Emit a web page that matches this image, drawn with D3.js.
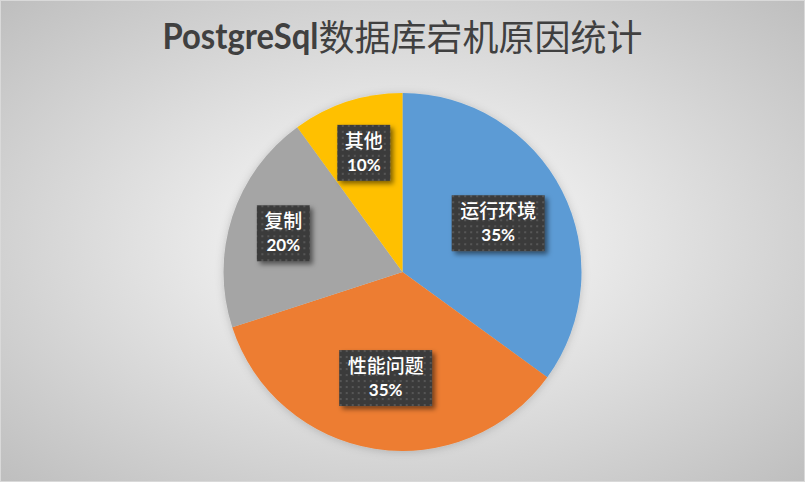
<!DOCTYPE html>
<html><head><meta charset="utf-8">
<script src="https://cdn.jsdelivr.net/npm/d3@7"></script>
<style>html,body{margin:0;padding:0;background:#fff;}svg{display:block;}</style>
</head><body>
<svg id="chart" width="805" height="482"></svg>
<script>
const categories = ["运行环境", "性能问题", "复制", "其他"];
const values = [35, 35, 20, 10];
const percentLabels = ["35%", "35%", "20%", "10%"];
const colors = ["#5B9BD5", "#ED7D31", "#A5A5A5", "#FFC000"];
const titleLatin = "PostgreSql";
const titleCJK = "数据库宕机原因统计";

const W = 805, H = 482;
const svg = d3.select("#chart");
const defs = svg.append("defs");

const bg = defs.append("radialGradient").attr("id", "bg")
  .attr("cx", "50%").attr("cy", "50%").attr("r", "72%");
bg.append("stop").attr("offset", "0%").attr("stop-color", "#ffffff");
bg.append("stop").attr("offset", "100%").attr("stop-color", "#bdbdbd");

const pat = defs.append("pattern").attr("id", "dots").attr("patternUnits", "userSpaceOnUse")
  .attr("width", 6).attr("height", 6);
pat.append("rect").attr("width", 6).attr("height", 6).attr("fill", "#3b3b3b");
pat.append("rect").attr("x", 2).attr("y", 2).attr("width", 2).attr("height", 2).attr("fill", "#575757");

const sh = defs.append("filter").attr("id", "boxShadow").attr("x", "-20%").attr("y", "-20%").attr("width", "150%").attr("height", "150%");
sh.append("feDropShadow").attr("dx", 3).attr("dy", 3).attr("stdDeviation", 2.5).attr("flood-color", "#000").attr("flood-opacity", 0.5);

const psh = defs.append("filter").attr("id", "pieShadow").attr("x", "-10%").attr("y", "-10%").attr("width", "120%").attr("height", "120%");
psh.append("feDropShadow").attr("dx", 0).attr("dy", 1).attr("stdDeviation", 4).attr("flood-color", "#000").attr("flood-opacity", 0.18);

svg.append("rect").attr("width", W).attr("height", H).attr("fill", "url(#bg)");
svg.append("rect").attr("x", 0.5).attr("y", 0.5).attr("width", W - 1).attr("height", H - 1)
  .attr("fill", "none").attr("stroke", "#d9d9d9").attr("stroke-width", 1);

// Title
const title = svg.append("text").attr("x", 402.5).attr("y", 49)
  .attr("text-anchor", "middle").attr("fill", "#404040");
title.append("tspan").text(titleLatin)
  .attr("font-family", "Lato, 'Open Sans', sans-serif").attr("font-weight", "bold")
  .attr("font-size", 36).attr("textLength", 156).attr("lengthAdjust", "spacingAndGlyphs");
title.append("tspan").text(titleCJK)
  .attr("font-family", "'Noto Sans CJK SC', sans-serif").attr("font-weight", 400)
  .attr("font-size", 36).attr("dy", 2);

// Pie
const cx = 402.5, cy = 272, R = 179;
const pie = d3.pie().sort(null).value(d => d)(values);
const arc = d3.arc().innerRadius(0).outerRadius(R);
const g = svg.append("g").attr("transform", `translate(${cx},${cy})`);
g.append("g").attr("filter", "url(#pieShadow)")
  .selectAll("path").data(pie).join("path")
  .attr("d", arc).attr("fill", (d, i) => colors[i]);

// Labels
const lbl = g.selectAll("g.lbl").data(pie).join("g").attr("class", "lbl");
lbl.each(function(d, i) {
  const frac = (d.endAngle - d.startAngle) / (2 * Math.PI);
  const rr = R * (frac >= 0.3 ? 0.6 : 0.7);
  const a = (d.startAngle + d.endAngle) / 2;
  const x = rr * Math.sin(a), y = -rr * Math.cos(a);
  const sel = d3.select(this).attr("transform", `translate(${x},${y})`);
  const name = categories[i];
  const bw = name.length * 20 + 13, bh = 56;
  sel.append("rect").attr("x", -bw / 2).attr("y", -bh / 2).attr("width", bw).attr("height", bh)
    .attr("fill", "url(#dots)").attr("filter", "url(#boxShadow)");
  sel.append("text").text(name).attr("text-anchor", "middle").attr("y", -5)
    .attr("fill", "#fff").attr("font-family", "'Noto Sans CJK SC', sans-serif")
    .attr("font-size", 19).attr("font-weight", 500);
  sel.append("text").text(percentLabels[i]).attr("text-anchor", "middle").attr("y", 18)
    .attr("fill", "#fff").attr("font-family", "Lato, 'Open Sans', sans-serif")
    .attr("font-size", 17).attr("font-weight", "bold");
});
</script>
</body></html>
